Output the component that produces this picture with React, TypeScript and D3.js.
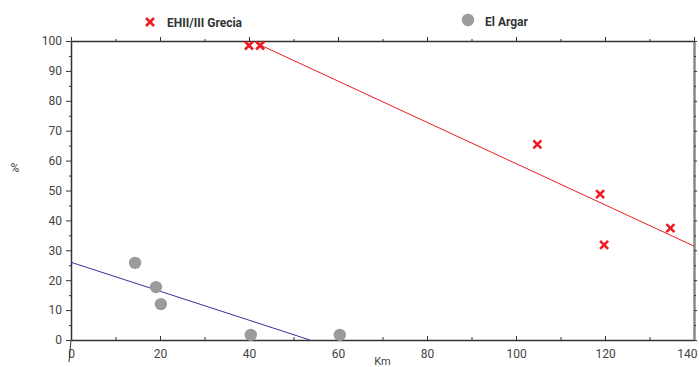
import { useEffect, useRef } from 'react';
import * as d3 from 'd3';

// EHII/III Grecia points [km, %]
const greciaKm = [40, 42.5, 104.8, 118.9, 119.8, 134.7];
const greciaPct = [98.5, 98.5, 65.4, 48.8, 31.8, 37.4];
// El Argar points [km, %]
const argarKm = [14.4, 19.1, 20.2, 40.4, 60.4];
const argarPct = [25.8, 17.7, 12.0, 1.7, 1.7];
// fitted lines: [start km, start %, end km, end %]
const greciaFit = [41.6, 99.3, 140, 31.4];
const argarFit = [0, 26, 53.7, 0];

const xTicks = [0, 20, 40, 60, 80, 100, 120, 140];
const yTicks = [0, 10, 20, 30, 40, 50, 60, 70, 80, 90, 100];
const legendLabels = ['EHII/III Grecia', 'El Argar'];

const RED = '#ec1c24';
const GREY = '#9b9b9b';
const BLUE = '#34349a';
const AXIS = '#333';
const FONT = 'Roboto, "DejaVu Sans", sans-serif';

function App() {
  const svgRef = useRef<SVGSVGElement>(null);

  useEffect(() => {
    const margin = { top: 41, right: 5, bottom: 27, left: 71 };
    const W = 699, H = 367;
    const width = W - margin.left - margin.right;
    const height = H - margin.top - margin.bottom;

    const root = d3.select(svgRef.current);
    root.selectAll('*').remove();
    root.attr('width', W).attr('height', H);

    const svg = root.append('g').attr('transform', `translate(${margin.left},${margin.top})`);

    const x = d3.scaleLinear().domain([0, 140]).range([0, width]);
    const y = d3.scaleLinear().domain([0, 100]).range([height, 0]);

    const styleAxis = (g: any) => {
      g.selectAll('path.domain').attr('stroke', AXIS).attr('stroke-width', 1.5);
      g.selectAll('line').attr('stroke', AXIS);
      g.selectAll('text').attr('fill', '#444').style('font-family', FONT).style('font-size', '12px');
    };

    // left axis
    svg.append('g')
      .call(d3.axisLeft(y).tickValues(yTicks).tickSize(5).tickSizeOuter(0).tickPadding(4))
      .call(styleAxis);
    svg.append('g')
      .call(d3.axisLeft(y).tickValues(d3.range(5, 100, 10)).tickSize(2).tickFormat(() => '').tickSizeOuter(0))
      .call((g: any) => { g.select('.domain').remove(); g.selectAll('line').attr('stroke', AXIS); });

    // bottom axis
    svg.append('g')
      .attr('transform', `translate(0,${height})`)
      .call(d3.axisBottom(x).tickValues(xTicks).tickSize(-4).tickSizeOuter(0).tickPadding(9))
      .call(styleAxis)
      .call((g: any) => {
        // last label sits against the right edge
        g.selectAll('.tick text').filter((d: number) => d === 140)
          .attr('text-anchor', 'end').attr('x', 3);
      });
    svg.append('g')
      .attr('transform', `translate(0,${height})`)
      .call(d3.axisBottom(x).tickValues(d3.range(10, 140, 20)).tickSize(-3).tickFormat(() => '').tickSizeOuter(0))
      .call((g: any) => { g.select('.domain').remove(); g.selectAll('line').attr('stroke', AXIS); });
    svg.append('line')
      .attr('x1', x(0)).attr('x2', x(0) - 2)
      .attr('y1', height).attr('y2', height + 22)
      .attr('stroke', AXIS).attr('stroke-width', 1);

    // top axis
    svg.append('g')
      .call(d3.axisTop(x).tickValues(xTicks).tickSize(4).tickFormat(() => '').tickSizeOuter(0))
      .call(styleAxis);
    svg.append('g')
      .call(d3.axisTop(x).tickValues(d3.range(10, 140, 20)).tickSize(2).tickFormat(() => '').tickSizeOuter(0))
      .call((g: any) => { g.select('.domain').remove(); g.selectAll('line').attr('stroke', AXIS); });

    // right axis
    svg.append('g')
      .attr('transform', `translate(${width},0)`)
      .call(d3.axisRight(y).tickValues(yTicks).tickSize(3).tickFormat(() => '').tickSizeOuter(0))
      .call(styleAxis)
      .call((g: any) => { g.select('.domain').attr('stroke', '#888').attr('stroke-width', 2.5); });
    svg.append('g')
      .attr('transform', `translate(${width},0)`)
      .call(d3.axisRight(y).tickValues(d3.range(5, 100, 10)).tickSize(2).tickFormat(() => '').tickSizeOuter(0))
      .call((g: any) => { g.select('.domain').remove(); g.selectAll('line').attr('stroke', AXIS); });

    // axis titles
    root.append('text')
      .attr('x', 15).attr('y', 172)
      .attr('text-anchor', 'middle')
      .attr('fill', '#444')
      .style('font-family', FONT).style('font-size', '12px')
      .text('%');
    root.append('text')
      .attr('x', margin.left + x(70)).attr('y', H - 2)
      .attr('text-anchor', 'middle')
      .attr('fill', '#444')
      .style('font-family', FONT).style('font-size', '11px')
      .text('Km');

    // fit lines
    const line = d3.line<number[]>().x(d => x(d[0])).y(d => y(d[1]));
    svg.append('path')
      .datum([[greciaFit[0], greciaFit[1]], [greciaFit[2], greciaFit[3]]])
      .attr('fill', 'none').attr('stroke', RED).attr('stroke-width', 1)
      .attr('d', line);
    svg.append('path')
      .datum([[argarFit[0], argarFit[1]], [argarFit[2], argarFit[3]]])
      .attr('fill', 'none').attr('stroke', BLUE).attr('stroke-width', 1)
      .attr('d', line);

    // El Argar points
    svg.selectAll('circle.argar')
      .data(argarKm.map((k, i) => [k, argarPct[i]]))
      .join('circle')
      .attr('class', 'argar')
      .attr('cx', d => x(d[0])).attr('cy', d => y(d[1]))
      .attr('r', 6.2)
      .attr('fill', GREY);

    // Grecia crosses
    const cross = 'M-4,-4L4,4M-4,4L4,-4';
    svg.selectAll('path.grecia')
      .data(greciaKm.map((k, i) => [k, greciaPct[i]]))
      .join('path')
      .attr('class', 'grecia')
      .attr('transform', d => `translate(${x(d[0])},${y(d[1])})`)
      .attr('d', cross)
      .attr('stroke', RED).attr('stroke-width', 2.6).attr('fill', 'none');

    // legend
    const leg = root.append('g');
    leg.append('path')
      .attr('transform', 'translate(150,22)')
      .attr('d', cross)
      .attr('stroke', RED).attr('stroke-width', 2.6).attr('fill', 'none');
    leg.append('text')
      .attr('x', 167).attr('y', 26.5)
      .attr('fill', '#333')
      .style('font-family', FONT).style('font-size', '12px').style('font-weight', 'bold')
      .text(legendLabels[0]);
    leg.append('circle')
      .attr('cx', 468).attr('cy', 20).attr('r', 6.2).attr('fill', GREY);
    leg.append('text')
      .attr('x', 485).attr('y', 25.5)
      .attr('fill', '#333')
      .style('font-family', FONT).style('font-size', '12px').style('font-weight', 'bold')
      .text(legendLabels[1]);
  }, []);

  return (
    <div style={{ position: 'absolute', left: 0, top: 0 }}>
      <svg ref={svgRef} style={{ display: 'block' }}></svg>
    </div>
  );
}

export default App;
